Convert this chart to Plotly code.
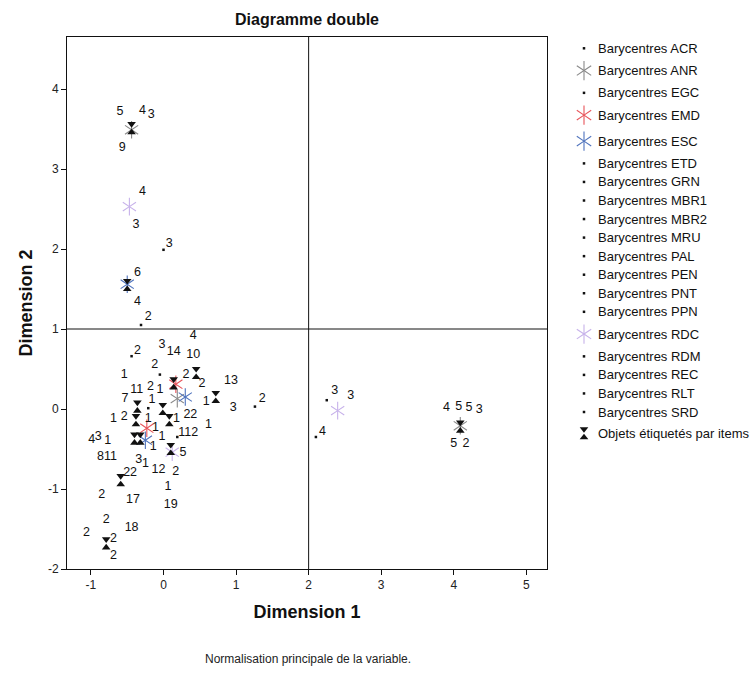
import plotly.graph_objects as go

# ---------------------------------------------------------------- data ----
# Objects (hourglass symbols), dimension 1 / dimension 2 scores
obj_x = [-0.44, -0.50, 0.45, 0.72, 0.14, -0.36, -0.01, 0.08, -0.38, -0.40, -0.32, 0.10, -0.59, -0.79, 4.09]
obj_y = [3.51, 1.55, 0.45, 0.15, 0.32, 0.03, 0.00, -0.14, -0.14, -0.37, -0.37, -0.50, -0.89, -1.68, -0.22]

# Category barycentres shown as coloured asterisks
anr_x = [-0.44, 4.09, 0.19]
anr_y = [3.49, -0.21, 0.13]
emd_x = [0.17, -0.23]
emd_y = [0.31, -0.24]
esc_x = [-0.50, 0.30, -0.25]
esc_y = [1.56, 0.15, -0.39]
rdc_x = [-0.47, 2.40, 0.12]
rdc_y = [2.53, -0.02, -0.54]

# Category barycentres shown as small dots
acr_x, acr_y = [0.00, 2.25], [1.99, 0.11]
egc_x, egc_y = [-0.31], [1.05]
etd_x, etd_y = [-0.44], [0.66]
grn_x, grn_y = [-0.05], [0.43]
mbr1_x, mbr1_y = [-0.21], [0.01]
mbr2_x, mbr2_y = [0.19], [-0.35]
mru_x, mru_y = [1.26], [0.03]
pal_x, pal_y = [2.10], [-0.35]

# Point labels (item / category numbers)
label_text = ["5", "4", "3", "9", "4", "3", "3", "6", "4", "2",
              "4", "3", "14", "10", "2", "2", "1", "2", "2", "13",
              "3", "7", "11", "2", "1", "1", "1", "1", "22", "1",
              "1", "2", "1", "1", "1", "112", "1", "5", "4", "3",
              "1", "811", "3", "1", "12", "2", "22", "2", "17", "1",
              "19", "2", "18", "2", "2", "2",
              "2", "3", "3", "4", "4", "5", "5", "3", "5", "2"]
label_x = [-0.60, -0.29, -0.17, -0.57, -0.29, -0.38, 0.08, -0.36, -0.36, -0.21,
           0.41, -0.02, 0.14, 0.41, -0.36, -0.12, -0.54, 0.31, 0.53, 0.93,
           0.96, -0.53, -0.37, -0.18, -0.05, -0.16, 0.59, 0.18, 0.37, 0.62,
           -0.69, -0.54, -0.21, -0.11, -0.02, 0.34, -0.14, 0.27, -0.99, -0.90,
           -0.77, -0.78, -0.34, -0.25, -0.07, 0.17, -0.46, -0.85, -0.42, 0.06,
           0.10, -0.79, -0.44, -1.06, -0.69, -0.69,
           1.36, 2.36, 2.58, 2.19, 3.90, 4.07, 4.21, 4.35, 4.00, 4.17]
label_y = [3.72, 3.73, 3.68, 3.26, 2.72, 2.30, 2.06, 1.70, 1.34, 1.15,
           0.92, 0.80, 0.72, 0.68, 0.73, 0.55, 0.43, 0.43, 0.32, 0.35,
           0.01, 0.13, 0.24, 0.28, 0.24, 0.11, 0.09, -0.12, -0.07, -0.20,
           -0.12, -0.10, -0.12, -0.24, -0.35, -0.30, -0.47, -0.55, -0.39, -0.35,
           -0.40, -0.60, -0.64, -0.69, -0.76, -0.79, -0.80, -1.07, -1.14, -0.97,
           -1.20, -1.38, -1.49, -1.55, -1.62, -1.83,
           0.13, 0.23, 0.16, -0.28, 0.02, 0.03, 0.02, -0.01, -0.43, -0.43]

x_ticks = [-1, 0, 1, 2, 3, 4, 5]
y_ticks = [-2, -1, 0, 1, 2, 3, 4]
ref_x, ref_y = 2, 1   # reference lines

# ------------------------------------------------------------- series ----
STAR_COLORS = {"ANR": "#8a8a8a", "EMD": "#e8545a", "ESC": "#4f73bd", "RDC": "#c7b2ea"}
star_series = {
    "ANR": (anr_x, anr_y), "EMD": (emd_x, emd_y),
    "ESC": (esc_x, esc_y), "RDC": (rdc_x, rdc_y),
}
dot_series = {
    "ACR": (acr_x, acr_y), "EGC": (egc_x, egc_y), "ETD": (etd_x, etd_y),
    "GRN": (grn_x, grn_y), "MBR1": (mbr1_x, mbr1_y), "MBR2": (mbr2_x, mbr2_y),
    "MRU": (mru_x, mru_y), "PAL": (pal_x, pal_y),
    "PEN": ([], []), "PNT": ([], []), "PPN": ([], []), "RDM": ([], []),
    "REC": ([], []), "RLT": ([], []), "SRD": ([], []),
}
legend_order = ["ACR", "ANR", "EGC", "EMD", "ESC", "ETD", "GRN", "MBR1", "MBR2",
                "MRU", "PAL", "PEN", "PNT", "PPN", "RDC", "RDM", "REC", "RLT", "SRD"]

# ------------------------------------------------------------- geometry --
FIG_W, FIG_H = 756, 677
PLOT_L, PLOT_R, PLOT_T, PLOT_B = 67, 547, 37, 569
X_RANGE = [-1.33, 5.285]
Y_RANGE = [-2.0, 4.65]
PAPER_W = FIG_W - PLOT_L
LEG_L = 560
FONT = "Liberation Sans, Arial, sans-serif"
INK = "#111111"

# half gap between the two triangles of an hourglass, converted to data units
HG_PX = 4.2
hg_dy = HG_PX * (Y_RANGE[1] - Y_RANGE[0]) / (PLOT_B - PLOT_T)

fig = go.Figure()


def add_star(fig, xs, ys, color, xa="x", ya="y", size=11):
    for sym in ("y-up-open", "y-down-open"):
        fig.add_trace(go.Scatter(
            x=xs, y=ys, mode="markers", xaxis=xa, yaxis=ya, showlegend=False,
            hoverinfo="skip",
            marker=dict(symbol=sym, size=size, color=color, line=dict(width=1.1, color=color))))


def add_hourglass(fig, xs, ys, dy, xa="x", ya="y", size=7.5):
    fig.add_trace(go.Scatter(
        x=xs, y=[v + dy for v in ys], mode="markers", xaxis=xa, yaxis=ya, showlegend=False,
        hoverinfo="skip", marker=dict(symbol="triangle-down", size=size, color=INK, line=dict(width=0))))
    fig.add_trace(go.Scatter(
        x=xs, y=[v - dy for v in ys], mode="markers", xaxis=xa, yaxis=ya, showlegend=False,
        hoverinfo="skip", marker=dict(symbol="triangle-up", size=size, color=INK, line=dict(width=0))))


def add_dots(fig, xs, ys, xa="x", ya="y"):
    fig.add_trace(go.Scatter(
        x=xs, y=ys, mode="markers", xaxis=xa, yaxis=ya, showlegend=False, hoverinfo="skip",
        marker=dict(symbol="square", size=2.5, color=INK, line=dict(width=0))))


# dots first, then asterisks, then objects, then labels on top
for name, (xs, ys) in dot_series.items():
    add_dots(fig, xs, ys)
for name, (xs, ys) in star_series.items():
    add_star(fig, xs, ys, STAR_COLORS[name])
add_hourglass(fig, obj_x, obj_y, hg_dy)

fig.add_trace(go.Scatter(
    x=label_x, y=label_y, text=label_text, mode="text", textposition="middle center",
    showlegend=False, hoverinfo="skip",
    textfont=dict(family=FONT, size=12.5, color=INK)))

# reference lines
fig.add_shape(type="line", xref="x", yref="y domain", x0=ref_x, x1=ref_x, y0=0, y1=1,
              line=dict(color=INK, width=1))
fig.add_shape(type="line", xref="x domain", yref="y", x0=0, x1=1, y0=ref_y, y1=ref_y,
              line=dict(color=INK, width=1))

# ---------------------------------------------------------------- legend --
ROW_DOT, ROW_STAR, ROW_OBJ = 18.55, 26.0, 24.0
entries = [(n, "star" if n in star_series else "dot") for n in legend_order]
entries.append(("Objets étiquetés par items", "obj"))
heights = {"dot": ROW_DOT, "star": ROW_STAR, "obj": ROW_OBJ}
ys_leg = [48.3]
for i in range(1, len(entries)):
    ys_leg.append(ys_leg[-1] + (heights[entries[i - 1][1]] + heights[entries[i][1]]) / 2)

LEG_MARK_X = 584
LEG_TEXT_X = 596
for (name, kind), ly in zip(entries, ys_leg):
    if kind == "star":
        add_star(fig, [LEG_MARK_X], [ly], STAR_COLORS[name], "x2", "y2", size=12)
    elif kind == "dot":
        add_dots(fig, [LEG_MARK_X], [ly], "x2", "y2")
    else:
        add_hourglass(fig, [LEG_MARK_X], [ly], -HG_PX, "x2", "y2")
    label = name if kind == "obj" else f"Barycentres {name}"
    fig.add_annotation(x=LEG_TEXT_X, y=ly, xref="x2", yref="y2", text=label, showarrow=False,
                       xanchor="left", yanchor="middle",
                       font=dict(family=FONT, size=13, color=INK))

# ---------------------------------------------------------------- layout --
axis_common = dict(showline=True, linecolor=INK, linewidth=1, mirror=True, showgrid=False,
                   zeroline=False, ticks="outside", ticklen=5, tickcolor=INK,
                   tickfont=dict(family=FONT, size=12, color="#222222"))

fig.update_layout(
    width=FIG_W, height=FIG_H,
    margin=dict(l=PLOT_L, r=0, t=PLOT_T, b=FIG_H - PLOT_B),
    paper_bgcolor="white", plot_bgcolor="white",
    font=dict(family=FONT, color=INK),
    title=dict(text="<b>Diagramme double</b>", x=((PLOT_L + PLOT_R) / 2 - PLOT_L) / PAPER_W,
               xref="paper", xanchor="center", y=1 - 19 / FIG_H, yanchor="middle",
               font=dict(family=FONT, size=16, color=INK)),
    xaxis=dict(domain=[0, (PLOT_R - PLOT_L) / PAPER_W], range=X_RANGE, tickvals=x_ticks,
               ticktext=[str(v) for v in x_ticks],
               title=dict(text="<b>Dimension 1</b>", standoff=13,
                          font=dict(family=FONT, size=18, color=INK)),
               **axis_common),
    yaxis=dict(range=Y_RANGE, tickvals=y_ticks, ticktext=[str(v) for v in y_ticks],
               title=dict(text="<b>Dimension 2</b>", standoff=10,
                          font=dict(family=FONT, size=18, color=INK)),
               **axis_common),
    xaxis2=dict(domain=[(LEG_L - PLOT_L) / PAPER_W, 1], range=[LEG_L, FIG_W], visible=False,
                fixedrange=True),
    yaxis2=dict(domain=[0, 1], range=[PLOT_B, PLOT_T], visible=False, fixedrange=True,
                anchor="x2"),
    showlegend=False,
)

fig.add_annotation(text="Normalisation principale de la variable.", xref="paper", yref="paper",
                   x=(308 - PLOT_L) / PAPER_W, y=(PLOT_B - 659) / (PLOT_B - PLOT_T),
                   xanchor="center", yanchor="middle", showarrow=False,
                   font=dict(family=FONT, size=12, color="#222222"))

fig.write_html("out.html")
